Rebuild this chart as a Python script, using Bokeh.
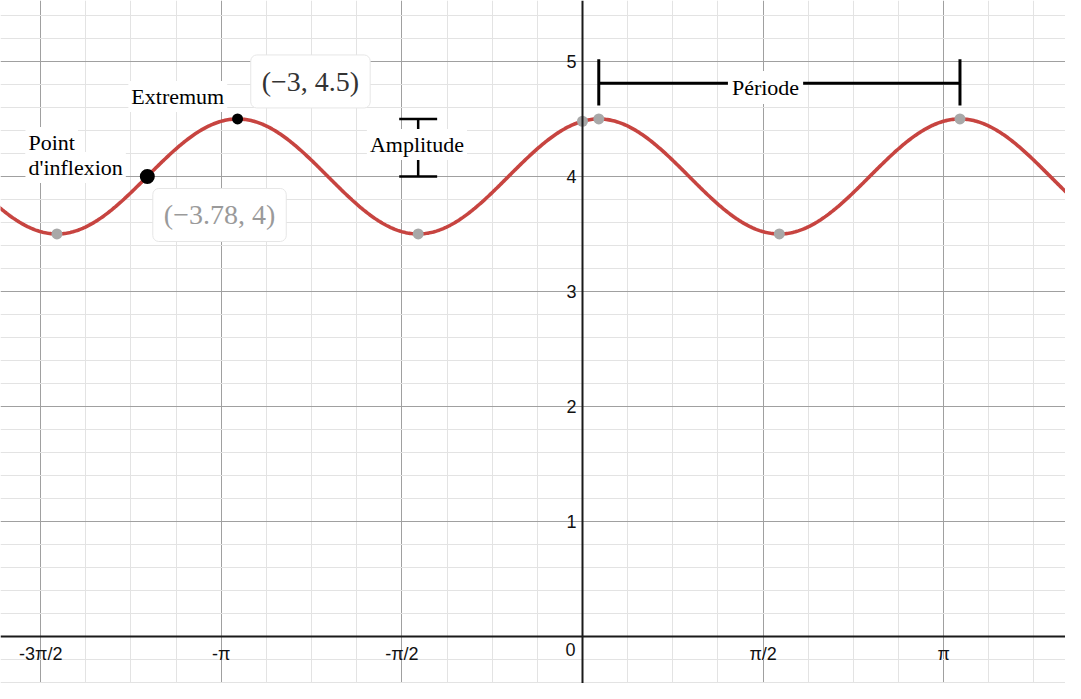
import numpy as np
from bokeh.plotting import figure
from bokeh.models import Range1d, FixedTicker, Label
from bokeh.embed import file_html
from bokeh.resources import INLINE

PI = np.pi
# Function parameters: y = midline + amplitude * cos(2*pi*(x - peak_x)/period)
midline = 4.0
amplitude = 0.5
period = PI
peak_x = -3.0

# Marked points
grey_x = [-4.571, -1.429, 0.142, 1.712, 3.283, 0.0]
grey_y = [3.5, 3.5, 4.5, 3.5, 4.5, 4.48]
extremum_pt = (-3.0, 4.5)
inflexion_pt = (-3.785, 4.0)

# Tick labels
x_ticks = [-1.5 * PI, -PI, -0.5 * PI, 0.5 * PI, PI]
x_tick_labels = ["-3π/2", "-π", "-π/2", "π/2", "π"]
y_ticks = [1, 2, 3, 4, 5]

W, H = 1065, 683
p = figure(width=W, height=H, output_backend="svg", toolbar_location=None,
           x_range=Range1d(-5.062, 4.201), y_range=Range1d(-0.409, 5.530),
           min_border=0, outline_line_color=None)

# Axes placed at the origin
p.xaxis.ticker = FixedTicker(ticks=x_ticks,
                             minor_ticks=[k * PI / 8 for k in range(-14, 12) if k % 4 != 0])
p.xaxis.major_label_overrides = {t: l for t, l in zip(x_ticks, x_tick_labels)}
p.yaxis.ticker = FixedTicker(ticks=y_ticks,
                             minor_ticks=[round(-0.4 + 0.2 * k, 2) for k in range(0, 31) if k % 5 != 2])
for ax in (p.xaxis, p.yaxis):
    ax.fixed_location = 0
    ax.axis_line_color = "#1a1a1a"
    ax.axis_line_width = 2
    ax.major_tick_line_color = None
    ax.minor_tick_line_color = None
    ax.major_label_text_font = "Liberation Sans"
    ax.major_label_text_font_size = "18px"
    ax.major_label_text_color = "#111111"
p.xaxis.major_label_standoff = 2
p.yaxis.major_label_standoff = 0

p.xgrid.grid_line_color = "#a0a0a0"
p.ygrid.grid_line_color = "#a0a0a0"
p.xgrid.minor_grid_line_color = "#e3e3e3"
p.ygrid.minor_grid_line_color = "#e3e3e3"
p.xgrid.grid_line_width = 1
p.ygrid.grid_line_width = 1

p.add_layout(Label(x=0, y=0, text="0", text_align="right", text_baseline="top",
                   x_offset=-7, y_offset=-7, text_font="Liberation Sans",
                   text_font_size="18px", text_color="#111111"))

# Curve
xs = np.linspace(-5.2, 4.4, 800)
ys = midline + amplitude * np.cos(2 * PI * (xs - peak_x) / period)
p.line(xs, ys, line_color="#c74440", line_width=3.6)

# Amplitude bracket
trough_x = peak_x + period / 2
cap = 0.165
p.segment(x0=[trough_x - cap, trough_x - cap, trough_x],
          y0=[midline + amplitude, midline, midline],
          x1=[trough_x + cap, trough_x + cap, trough_x],
          y1=[midline + amplitude, midline, midline + amplitude],
          line_color="black", line_width=2.5)

# Period bracket
px0, px1 = peak_x + period, peak_x + 2 * period
py = 4.811
p.segment(x0=[px0, px0, px1], y0=[py, 4.617, 4.617], x1=[px1, px0, px1], y1=[py, 5.02, 5.02],
          line_color="black", line_width=3)

serif = "Liberation Serif"

def tlabel(x, y, text, align="left", size="22px", color="black", pad=3):
    p.add_layout(Label(x=x, y=y, text=text, text_align=align, text_baseline="middle",
                       text_font=serif, text_font_size=size, text_color=color,
                       background_fill_color="white", background_fill_alpha=1.0,
                       padding=pad))

tlabel(-1.44, 4.278, "Amplitude", align="center")
tlabel(1.592, 4.774, "Période", align="center", pad=4)
tlabel(-3.95, 4.696, "Extremum")
tlabel(-4.845, 4.296, "Point")
tlabel(-4.845, 4.078, "d'inflexion")

def coord_box(x, y, text, color):
    p.add_layout(Label(x=x, y=y, text=text, text_align="center", text_baseline="middle",
                       y_offset=-2, text_alpha=0.0, text_font=serif, text_font_size="28px",
                       background_fill_color="#000000", background_fill_alpha=0.08,
                       padding=12, border_radius=6))
    p.add_layout(Label(x=x, y=y, text=text, text_align="center", text_baseline="middle",
                       text_font=serif, text_font_size="28px", text_color=color,
                       background_fill_color="white", background_fill_alpha=1.0,
                       border_line_color="#e6e6e6", border_line_width=1,
                       padding=11, border_radius=6))

# Points
p.scatter(grey_x, grey_y, size=11, fill_color="#a8a8a8", line_color=None)
p.scatter([extremum_pt[0]], [extremum_pt[1]], size=11, fill_color="black", line_color=None)
p.scatter([inflexion_pt[0]], [inflexion_pt[1]], size=15, fill_color="black", line_color=None)

coord_box(-2.366, 4.826, "(−3, 4.5)", "#333333")
coord_box(-3.157, 3.665, "(−3.78, 4)", "#9a9a9a")

open("out.html", "w").write(file_html(p, INLINE))
